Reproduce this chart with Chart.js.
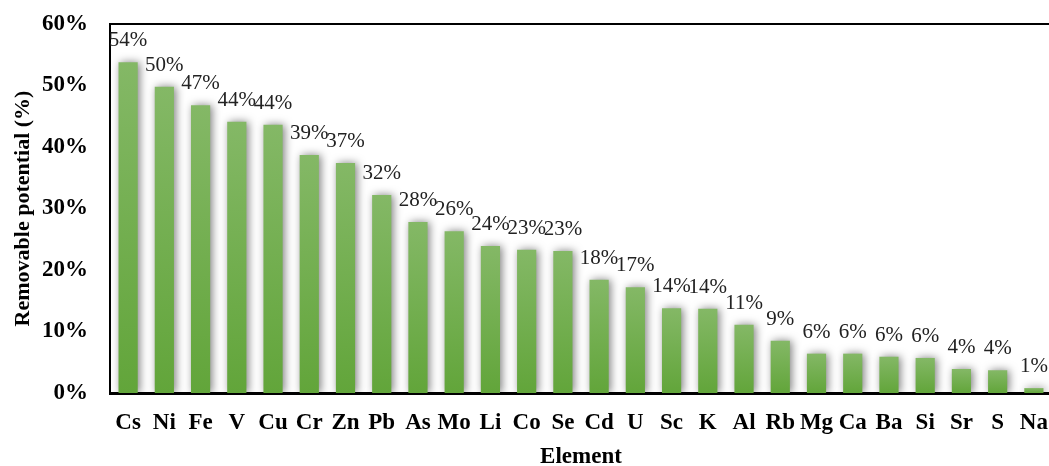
<!DOCTYPE html>
<html>
<head>
<meta charset="utf-8">
<script src="https://cdn.jsdelivr.net/npm/chart.js@4/dist/chart.umd.min.js"></script>
<style>
  html, body { margin: 0; padding: 0; background: #fff; overflow: hidden; }
  #chart { display: block; }
</style>
</head>
<body>
<canvas id="chart" width="1052" height="466"></canvas>
<script>
const elements = ['Cs', 'Ni', 'Fe', 'V', 'Cu', 'Cr', 'Zn', 'Pb', 'As', 'Mo', 'Li', 'Co', 'Se',
  'Cd', 'U', 'Sc', 'K', 'Al', 'Rb', 'Mg', 'Ca', 'Ba', 'Si', 'Sr', 'S', 'Na'];
const potential = [53.8, 49.8, 46.8, 44.1, 43.6, 38.7, 37.4, 32.2, 27.8, 26.3, 23.9, 23.3, 23.1,
  18.4, 17.2, 13.8, 13.7, 11.1, 8.5, 6.4, 6.4, 5.9, 5.7, 3.9, 3.7, 0.8];

const serif = '"Liberation Serif", "Times New Roman", serif';

function barFill(ctx) {
  const chart = ctx.chart;
  const y = chart.scales.y;
  if (!y || ctx.dataIndex === undefined) return '#6aab45';
  const top = y.getPixelForValue(ctx.raw);
  const bottom = y.getPixelForValue(0);
  if (!isFinite(top) || !isFinite(bottom) || top === bottom) return '#6aab45';
  const g = chart.ctx.createLinearGradient(0, top, 0, bottom);
  g.addColorStop(0, '#84b866');
  g.addColorStop(1, '#62a53a');
  return g;
}

const barShadow = {
  id: 'barShadow',
  beforeDatasetDraw(chart) {
    const c = chart.ctx;
    c.save();
    c.shadowColor = 'rgba(0,0,0,0.5)';
    c.shadowBlur = 8;
    c.shadowOffsetX = 2;
    c.shadowOffsetY = 0;
  },
  afterDatasetDraw(chart) {
    chart.ctx.restore();
  }
};

const valueLabels = {
  id: 'valueLabels',
  afterDatasetsDraw(chart) {
    const c = chart.ctx;
    const meta = chart.getDatasetMeta(0);
    c.save();
    c.font = '21px ' + serif;
    c.fillStyle = '#222';
    c.textAlign = 'center';
    c.textBaseline = 'alphabetic';
    meta.data.forEach((bar, i) => {
      c.fillText(Math.round(potential[i]) + '%', bar.x, bar.y - 16);
    });
    c.restore();
  }
};

const topBorder = {
  id: 'topBorder',
  afterDraw(chart) {
    const a = chart.chartArea;
    const c = chart.ctx;
    c.save();
    c.strokeStyle = '#000';
    c.lineWidth = 2;
    c.beginPath();
    c.moveTo(a.left - 1, a.top);
    c.lineTo(a.right, a.top);
    c.stroke();
    c.restore();
  }
};

new Chart(document.getElementById('chart'), {
  type: 'bar',
  data: {
    labels: elements,
    datasets: [{
      data: potential,
      backgroundColor: barFill,
      barPercentage: 0.53,
      categoryPercentage: 1
    }]
  },
  plugins: [barShadow, valueLabels, topBorder],
  options: {
    responsive: false,
    animation: false,
    layout: { padding: { top: 24, left: 0, right: 0, bottom: 0 } },
    plugins: { legend: { display: false }, tooltip: { enabled: false } },
    scales: {
      x: {
        grid: { display: false, drawTicks: false },
        border: { color: '#000', width: 3 },
        ticks: { color: '#000', font: { family: serif, size: 23, weight: 'bold' }, padding: 16, maxRotation: 0, autoSkip: false },
        title: { display: true, text: 'Element', color: '#000', font: { family: serif, size: 23, weight: 'bold', lineHeight: 0.8 }, padding: { top: 10, bottom: 0 } },
        afterFit(scale) {
          scale.height = 73;
          scale.paddingLeft = 0;
          scale.paddingRight = 0;
        }
      },
      y: {
        min: 0,
        max: 60,
        grid: { display: false, drawTicks: false },
        border: { color: '#000', width: 2 },
        ticks: {
          stepSize: 10,
          color: '#000',
          padding: 22,
          font: { family: serif, size: 23, weight: 'bold' },
          callback: v => v + '%'
        },
        title: { display: true, text: 'Removable potential (%)', color: '#000', font: { family: serif, size: 22, weight: 'bold' }, padding: { top: 10, bottom: 0 } },
        afterFit(scale) {
          scale.width = 110;
          scale.paddingTop = 0;
          scale.paddingBottom = 0;
        }
      }
    }
  }
});
</script>
</body>
</html>
